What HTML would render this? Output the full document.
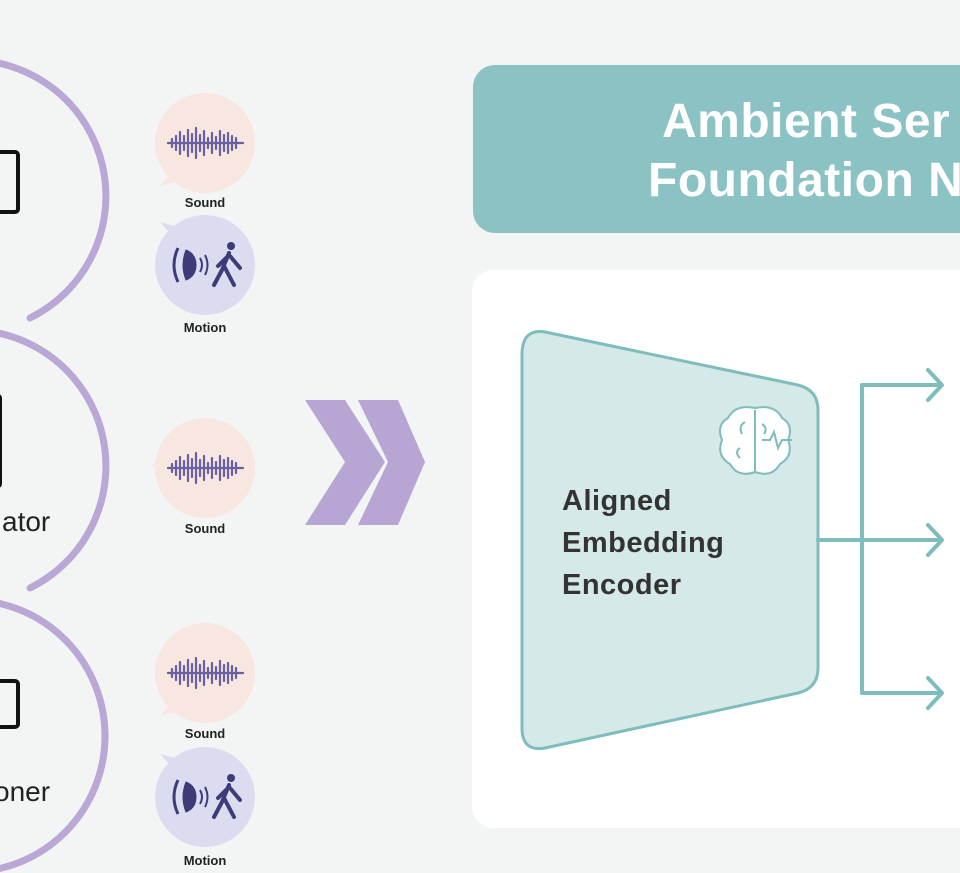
<!DOCTYPE html>
<html><head><meta charset="utf-8"><style>
html,body{margin:0;padding:0;background:#f3f5f5;}
svg{display:block;font-family:"Liberation Sans",sans-serif;}
</style></head><body>
<svg width="960" height="873" viewBox="0 0 960 873" xmlns="http://www.w3.org/2000/svg">
<rect width="960" height="873" fill="#f3f5f5"/>
<g fill="none" stroke="#b9a8d6" stroke-width="7" stroke-linecap="round">
<path d="M -31 60 A 136 136 0 0 1 30 318"/>
<path d="M -31 330 A 136 136 0 0 1 30 588"/>
<path d="M -31 600 A 136 136 0 0 1 -31 872"/>
</g>
<g fill="none" stroke="#111" stroke-width="4">
<rect x="-20" y="152" width="38" height="60" rx="3"/>
<rect x="-20" y="396" width="20" height="90" rx="2"/>
<rect x="-20" y="681" width="38" height="46" rx="3"/>
</g>
<text x="2" y="531" font-size="28" fill="#222">ator</text>
<text x="-6" y="801" font-size="28" fill="#222">oner</text>
<g>
<path d="M170 175 L160 186 L182 180 Z" fill="#f8e6e0"/>
<circle cx="205" cy="143" r="50" fill="#f8e6e0"/>
<path d="M170 233 L160 222 L182 228 Z" fill="#dcdcf0"/>
<circle cx="205" cy="265" r="50" fill="#dcdcf0"/>
<path d="M160 468 L150 466 L162 458 Z" fill="#f8e6e0"/>
<circle cx="205" cy="468" r="50" fill="#f8e6e0"/>
<path d="M170 705 L160 716 L182 710 Z" fill="#f8e6e0"/>
<circle cx="205" cy="673" r="50" fill="#f8e6e0"/>
<path d="M170 765 L160 754 L182 760 Z" fill="#dcdcf0"/>
<circle cx="205" cy="797" r="50" fill="#dcdcf0"/>
</g>
<g id="w1" stroke="#6a5fa0" stroke-width="2.2" stroke-linecap="round">
<line x1="168" y1="143" x2="243" y2="143"/>
<line x1="172" y1="139" x2="172" y2="147"/><line x1="176" y1="136" x2="176" y2="150"/><line x1="180" y1="132" x2="180" y2="154"/><line x1="184" y1="136" x2="184" y2="150"/><line x1="188" y1="130" x2="188" y2="156"/><line x1="192" y1="134" x2="192" y2="152"/><line x1="196" y1="128" x2="196" y2="158"/><line x1="200" y1="135" x2="200" y2="151"/><line x1="204" y1="131" x2="204" y2="155"/><line x1="208" y1="138" x2="208" y2="148"/><line x1="212" y1="133" x2="212" y2="153"/><line x1="216" y1="137" x2="216" y2="149"/><line x1="220" y1="131" x2="220" y2="155"/><line x1="224" y1="135" x2="224" y2="151"/><line x1="228" y1="133" x2="228" y2="153"/><line x1="232" y1="136" x2="232" y2="150"/><line x1="236" y1="138" x2="236" y2="148"/>
</g>
<use href="#w1" transform="translate(0,325)"/>
<use href="#w1" transform="translate(0,530)"/>
<g id="m1" fill="#3f3a78" stroke="#3f3a78">
<path d="M178 248 Q170 265 178 282" fill="none" stroke-width="3"/>
<path d="M186 250 Q180 265 186 280 Q196 276 196 265 Q196 254 186 250 Z" stroke-width="1"/>
<path d="M200 258 Q204 265 200 272" fill="none" stroke-width="2"/>
<path d="M205 255 Q210 265 205 275" fill="none" stroke-width="2"/>
<circle cx="231" cy="246" r="4" stroke="none"/>
<path d="M229 253 L222 270 L214 285 M224 266 L234 285 M228 256 L218 266 M230 256 L240 268" fill="none" stroke-width="4" stroke-linecap="round"/>
</g>
<use href="#m1" transform="translate(0,532)"/>
<g font-size="13" font-weight="bold" fill="#222" text-anchor="middle">
<text x="205" y="207">Sound</text>
<text x="205" y="332">Motion</text>
<text x="205" y="533">Sound</text>
<text x="205" y="738">Sound</text>
<text x="205" y="865">Motion</text>
</g>
<g fill="#b7a6d3">
<polygon points="305,400 345,400 385,462 345,525 305,525 345,462"/>
<polygon points="358,400 398,400 425,462 398,525 358,525 388,462"/>
</g>
<rect x="473" y="65" width="520" height="168" rx="22" fill="#8bc2c3"/>
<g fill="#fff" font-size="48" font-weight="bold" letter-spacing="0.5">
<text x="662" y="137">Ambient Ser</text>
<text x="648" y="196">Foundation N</text>
</g>
<rect x="472" y="270" width="520" height="558" rx="22" fill="#fff"/>
<path d="M545 332 L798 385 Q818 390 818 410 L818 668 Q818 688 798 693 L545 748 Q522 752 522 728 L522 355 Q522 328 545 332 Z" fill="#d6e9e9" stroke="#7fbdbd" stroke-width="3"/>
<g fill="#333" font-size="29" font-weight="bold" letter-spacing="0.5">
<text x="562" y="510">Aligned</text>
<text x="562" y="552">Embedding</text>
<text x="562" y="594">Encoder</text>
</g>
<g fill="#fff" stroke="#7fbdbd" stroke-width="2">
<path d="M755 408 Q735 404 728 418 Q716 425 722 440 Q716 456 730 464 Q738 478 755 472 Q772 478 780 464 Q794 456 788 440 Q794 425 782 418 Q775 404 755 408 Z"/>
<line x1="755" y1="410" x2="755" y2="472"/>
<path d="M762 440 L770 440 L774 432 L778 448 L782 440 L792 440" fill="none"/>
<path d="M745 422 Q738 426 742 434 M740 448 Q734 452 740 458 M762 424 Q768 428 764 434" fill="none"/>
</g>
<g fill="none" stroke="#7fbdbd" stroke-width="4" stroke-linecap="round" stroke-linejoin="round">
<line x1="818" y1="540" x2="940" y2="540"/>
<path d="M940 385 L862 385 L862 693 L940 693"/>
<path d="M928 370 L942 385 L928 400"/>
<path d="M928 525 L942 540 L928 555"/>
<path d="M928 678 L942 693 L928 708"/>
</g>
</svg>
</body></html>
